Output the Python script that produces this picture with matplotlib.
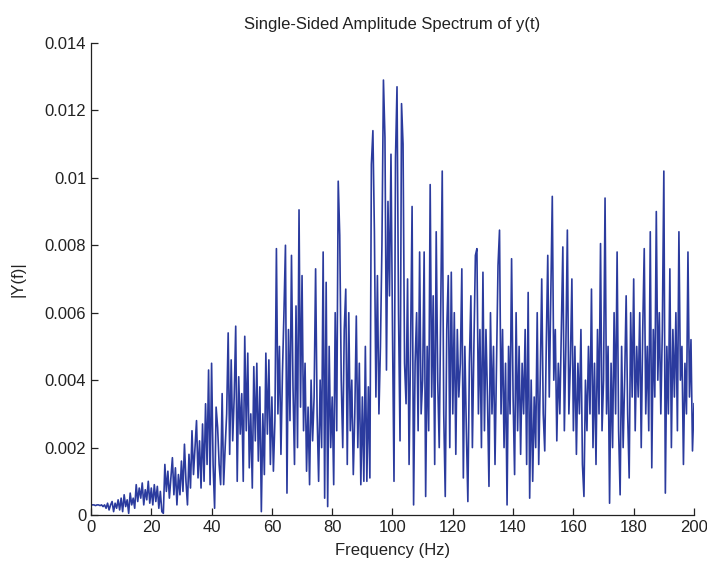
import matplotlib
matplotlib.use("Agg")
import matplotlib.pyplot as plt
import numpy as np

FIGSIZE = (7.07, 5.67)
plt.rcParams['font.family'] = ['Liberation Sans', 'DejaVu Sans']

# amplitude, in units of 1e-3, one row = 10 Hz at 0.5 Hz steps
amp_0_50 = [
    0.3, 0.3, 0.3, 0.28, 0.3, 0.3, 0.28, 0.3, 0.25, 0.3, 0.2, 0.35, 0.15, 0.3, 0.4, 0.1, 0.35, 0.2, 0.45, 0.15,
    0.5, 0.1, 0.6, 0.25, 0.45, 0.05, 0.65, 0.3, 0.5, 0.2, 0.9, 0.4, 0.8, 0.5, 0.95, 0.3, 0.75, 0.45, 1.0, 0.35,
    0.8, 0.3, 0.9, 0.4, 0.85, 0.2, 0.7, 0.1, 0.05, 1.5, 0.7, 1.3, 0.5, 1.1, 1.7, 0.6, 1.4, 0.3, 1.2, 0.6,
    1.6, 0.7, 2.1, 1.0, 0.3, 1.8, 0.8, 2.5, 1.2, 2.0, 2.8, 1.1, 2.2, 0.8, 2.7, 1.0, 3.3, 1.5, 4.3, 0.9,
    4.5, 1.5, 0.2, 3.2, 2.6, 1.5, 0.9, 3.6, 0.9, 2.0, 3.0, 5.4, 1.8, 4.6, 2.2, 3.5, 5.6, 1.0, 4.1, 2.4,
]
amp_50_100 = [
    3.6, 1.0, 5.3, 2.5, 4.8, 1.4, 3.0, 0.8, 4.4, 2.2, 4.5, 1.6, 3.8, 0.1, 3.0, 1.2, 4.8, 2.4, 4.6, 1.5,
    3.5, 1.3, 2.8, 7.9, 3.0, 5.0, 1.8, 4.2, 6.0, 8.0, 0.65, 5.5, 2.8, 7.7, 3.8, 1.5, 6.2, 2.0, 9.05, 3.2,
    7.1, 2.5, 4.5, 1.3, 3.2, 0.9, 4.0, 2.2, 3.5, 7.3, 3.0, 1.0, 4.0, 2.0, 7.8, 0.5, 6.9, 0.25, 5.0, 2.0,
    3.5, 0.9, 6.0, 2.5, 9.9, 8.3, 4.0, 2.0, 5.5, 6.7, 1.5, 6.0, 2.5, 4.0, 1.2, 3.0, 5.9, 2.0, 4.5, 0.9,
    3.5, 1.0, 5.0, 1.0, 3.8, 1.1, 10.4, 11.4, 8.4, 3.5, 7.1, 3.0, 5.0, 8.0, 12.9, 11.2, 4.3, 9.3, 6.5, 10.7,
]
amp_100_150 = [
    5.5, 1.0, 10.6, 12.7, 6.0, 2.2, 12.2, 11.0, 4.5, 3.3, 7.0, 1.5, 5.0, 9.15, 0.3, 4.5, 6.0, 2.5, 7.8, 3.0,
    4.0, 7.8, 0.55, 5.0, 2.5, 9.8, 3.5, 6.5, 1.5, 8.4, 4.0, 2.0, 6.0, 10.2, 3.0, 0.55, 5.5, 7.1, 2.0, 7.2,
    3.0, 6.0, 1.8, 5.5, 3.5, 4.5, 7.3, 1.1, 5.0, 2.5, 0.4, 4.5, 6.5, 2.0, 5.0, 7.7, 7.9, 3.0, 5.5, 2.0,
    7.2, 2.5, 5.5, 3.5, 0.85, 6.0, 3.0, 5.0, 1.5, 4.5, 7.4, 8.45, 3.0, 5.5, 2.0, 4.5, 0.3, 5.0, 3.0, 7.6,
    3.5, 1.2, 6.0, 2.5, 5.0, 1.8, 4.5, 3.0, 5.5, 1.5, 6.6, 0.5, 4.0, 1.0, 3.5, 2.0, 6.0, 1.5, 4.0, 7.0,
]
amp_150_200 = [
    3.0, 1.9, 5.0, 7.7, 3.5, 6.5, 9.45, 4.0, 5.5, 2.2, 4.5, 3.0, 5.5, 7.95, 2.5, 5.0, 8.45, 3.0, 4.5, 7.0,
    2.5, 5.0, 1.8, 4.5, 3.0, 5.5, 1.5, 0.55, 4.0, 2.5, 5.0, 3.0, 6.7, 2.0, 4.5, 1.5, 5.5, 3.0, 8.05, 2.5,
    4.0, 9.4, 3.0, 5.0, 0.35, 4.5, 2.0, 6.0, 3.0, 7.8, 2.5, 0.6, 5.0, 2.0, 4.0, 6.5, 3.0, 1.1, 6.0, 3.5,
    7.0, 2.5, 5.0, 3.5, 6.0, 2.0, 5.5, 7.9, 3.0, 5.0, 2.5, 8.4, 1.4, 5.5, 3.5, 9.0, 4.0, 6.0, 3.0, 5.5,
    10.2, 0.65, 5.0, 3.0, 7.3, 2.0, 5.5, 3.5, 6.0, 2.5, 8.4, 4.0, 5.0, 1.5, 4.5, 3.0, 7.8, 3.5, 5.2, 1.9,
    3.3,
]

y_ticks = [0, 0.002, 0.004, 0.006, 0.008, 0.01, 0.012, 0.014]
y_tick_labels = ['0', '0.002', '0.004', '0.006', '0.008', '0.01', '0.012', '0.014']
x_ticks = [0, 20, 40, 60, 80, 100, 120, 140, 160, 180, 200]

if __name__ == '__main__':
    amp = np.array(amp_0_50 + amp_50_100 + amp_100_150 + amp_150_200) * 1e-3
    freq = np.arange(len(amp)) * 0.5

    figure = plt.figure(figsize=FIGSIZE, dpi=100)
    axis = figure.add_axes([0.1287, 0.0917, 0.8529, 0.8325])

    axis.plot(freq, amp, color='#2b3b9e', linewidth=1.2)

    axis.set_xlim(0, 200)
    axis.set_ylim(0, 0.014)
    axis.set_xticks(x_ticks)
    axis.set_yticks(y_ticks)
    axis.set_yticklabels(y_tick_labels)
    axis.tick_params(direction='in', length=5, labelsize=12, colors='#222222', width=0.9)
    for side in ('top', 'right'):
        axis.spines[side].set_visible(False)
    for side in ('left', 'bottom'):
        axis.spines[side].set_linewidth(0.9)
        axis.spines[side].set_color('#222222')

    axis.set_title("Single-Sided Amplitude Spectrum of y(t)", fontsize=12, color='#222222', pad=10)
    axis.set_xlabel("Frequency (Hz)", fontsize=12, color='#222222', labelpad=6)
    axis.set_ylabel("|Y(f)|", fontsize=12, color='#222222', labelpad=14)

    figure.savefig("out.png", dpi=100)
